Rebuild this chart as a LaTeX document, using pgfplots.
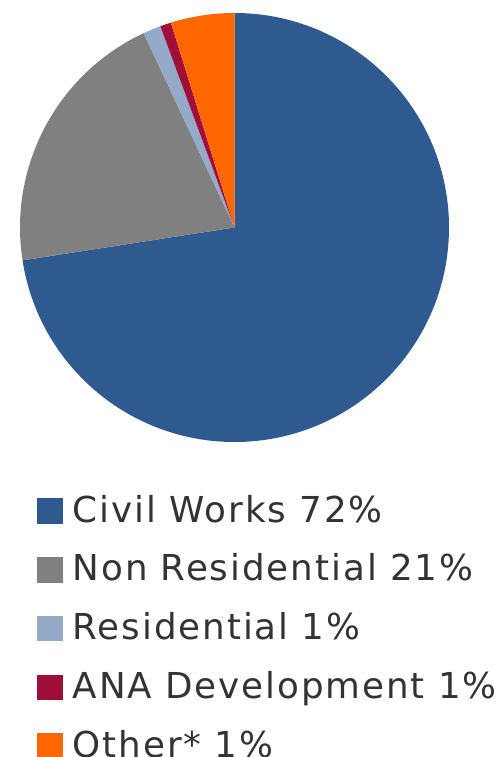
\documentclass[border=0pt]{standalone}
\usepackage{fontspec}
\setmainfont{DejaVu Sans}[LetterSpace=5.4]
\usepackage{pgfplots}
\usepackage{pgfplotstable}
\pgfplotsset{compat=1.18}

\definecolor{civil}{RGB}{47,90,143}
\definecolor{nonres}{RGB}{128,128,128}
\definecolor{resid}{RGB}{149,170,201}
\definecolor{ana}{RGB}{160,15,58}
\definecolor{other}{RGB}{255,102,0}
\definecolor{legtext}{RGB}{51,51,51}

% shares in percent, clockwise from 12 o'clock
\pgfplotstableread{
share colour
72.55 civil
20.49 nonres
1.34  resid
0.83  ana
4.80  other
}\piedata

\begin{document}
\begin{tikzpicture}
\begin{axis}[
  x=0.5pt, y=0.5pt, xmin=0, xmax=497, ymin=0, ymax=757,
  scale only axis, hide axis, clip=false,
  legend style={at={(axis cs:37,263.3)}, anchor=north west,
    draw=none, fill=none, inner sep=0pt,
    font=\fontsize{17.85}{20}\selectfont, text=legtext,
    row sep=11.4pt, column sep=5pt,
    nodes={inner sep=0pt, text height=14pt, text depth=4pt}},
  legend cell align=left,
  legend image code/.code={\fill[#1] (0pt,-5.5pt) rectangle (12.25pt,6.75pt);},
]
\def\angA{90}
\pgfplotsforeachungrouped \i in {0,...,4}{%
  \pgfplotstablegetelem{\i}{share}\of\piedata
  \pgfmathsetmacro{\angB}{\angA-3.6*\pgfplotsretval}%
  \pgfplotstablegetelem{\i}{colour}\of\piedata
  \edef\slice{\noexpand\fill[\pgfplotsretval] (axis cs:234.5,529.5) -- ++(\angA:107.25pt)
    arc[start angle=\angA, end angle=\angB, radius=107.25pt] -- cycle;}%
  \slice
  \let\angA\angB
}
\addlegendimage{civil}\addlegendentry{Civil Works 72\%}
\addlegendimage{nonres}\addlegendentry{Non Residential 21\%}
\addlegendimage{resid}\addlegendentry{Residential 1\%}
\addlegendimage{ana}\addlegendentry{ANA Development 1\%}
\addlegendimage{other}\addlegendentry{Other* 1\%}
\end{axis}
\pgfresetboundingbox
\useasboundingbox (0,0) rectangle (248.5pt,378.5pt);
\end{tikzpicture}
\end{document}
